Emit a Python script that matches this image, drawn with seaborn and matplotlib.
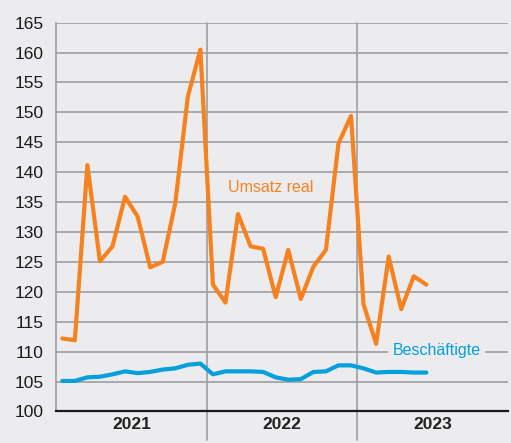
import matplotlib
matplotlib.use("Agg")
import matplotlib.pyplot as plt
import seaborn as sns
import numpy as np
import pandas as pd

# monthly values, Jan 2021 .. Jun 2023
umsatz_real = [
    112.2, 111.9, 141.2, 125.1, 127.6, 135.9, 132.6, 124.1, 125.0, 134.8, 152.6, 160.5,
    121.2, 118.2, 133.0, 127.6, 127.2, 119.1, 127.0, 118.8, 124.2, 127.0, 144.8, 149.4,
    117.9, 111.3, 125.9, 117.1, 122.6, 121.2,
]
beschaeftigte = [
    105.1, 105.1, 105.7, 105.8, 106.2, 106.7, 106.4, 106.6, 107.0, 107.2, 107.8, 108.0,
    106.2, 106.7, 106.7, 106.7, 106.6, 105.7, 105.3, 105.4, 106.6, 106.7, 107.7, 107.7,
    107.2, 106.5, 106.6, 106.6, 106.5, 106.5,
]
years = ["2021", "2022", "2023"]
y_ticks = list(range(100, 170, 5))

ORANGE = "#f5821f"
BLUE = "#059fdc"
BG = "#ececef"
GRID = "#a3a3a6"

sns.set_style("white", {"axes.facecolor": BG, "figure.facecolor": BG})
plt.rcParams["font.family"] = ["Liberation Sans", "DejaVu Sans"]

months = np.arange(len(umsatz_real)) + 0.5
df = pd.DataFrame({"pos": months, "umsatz": umsatz_real, "besch": beschaeftigte})

fig = plt.figure(figsize=(5.11, 4.43), dpi=100)
ax = fig.add_axes([0.1096, 0.0713, 0.8844, 0.8775])

for yv in y_ticks[1:]:
    ax.axhline(yv, color=GRID, lw=1.3, zorder=1)
for b in (12, 24):
    ax.axvline(b, ymin=-0.074, ymax=1, color=GRID, lw=1.3, zorder=1, clip_on=False)

sns.lineplot(data=df, x="pos", y="besch", color=BLUE, lw=3.0, ax=ax, zorder=3)
sns.lineplot(data=df, x="pos", y="umsatz", color=ORANGE, lw=3.0, ax=ax, zorder=3)

ax.set_xlim(0, 36)
ax.set_ylim(100, 165)
ax.set_xlabel("")
ax.set_ylabel("")

ax.set_yticks(y_ticks)
ax.tick_params(axis="y", length=0, pad=9, labelsize=12.5, labelcolor="#1a1a1a")

ax.set_xticks([6, 18, 30])
ax.set_xticklabels(years, fontweight="bold", fontsize=12.5, color="#222222")
ax.set_xticks([m for m in range(1, 36) if m not in (12, 24)], minor=True)
ax.tick_params(axis="x", which="major", length=0, pad=4)
ax.tick_params(axis="x", which="minor", direction="in", length=5, width=1.1, color="#555555")

for s in ("top", "right"):
    ax.spines[s].set_visible(False)
ax.spines["left"].set_color(GRID)
ax.spines["left"].set_linewidth(1.3)
ax.spines["bottom"].set_color("#1a1a1a")
ax.spines["bottom"].set_linewidth(1.6)
ax.spines["bottom"].set_zorder(4)

ax.text(13.7, 137.4, "Umsatz real", color=ORANGE, fontsize=11.5, va="center", ha="left", zorder=4)
ax.text(26.8, 110.15, "Beschäftigte", color=BLUE, fontsize=11.5, va="center", ha="left", zorder=4,
        bbox=dict(boxstyle="square,pad=0.25", fc=BG, ec="none"))

fig.savefig("out.png", dpi=100, facecolor=BG)
